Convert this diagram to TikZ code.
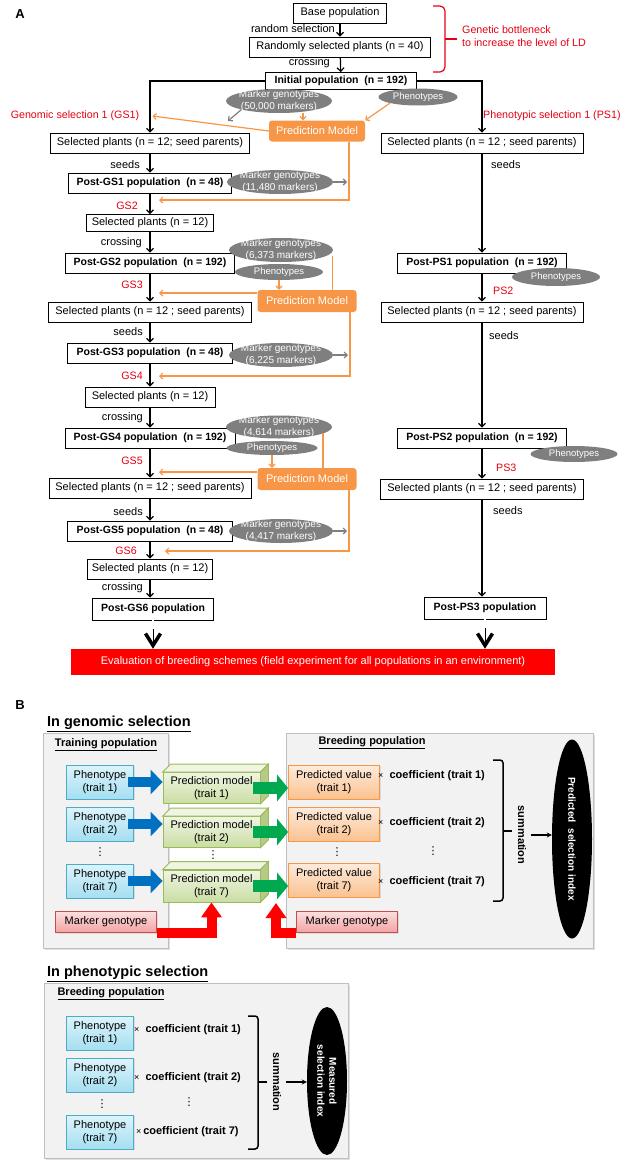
\documentclass[tikz,border=0pt]{standalone}
\usepackage{fontspec}
\setmainfont{Liberation Sans}
\newfontfamily\dotsfont{DejaVu Sans}
\usepackage{tikz}
\usetikzlibrary{arrows.meta}
\usetikzlibrary{positioning,decorations.pathreplacing}
\usetikzlibrary{calc,shapes.geometric,shadows}
\definecolor{selred}{HTML}{E60012}
\definecolor{evalred}{HTML}{FF0000}
\definecolor{pmorange}{HTML}{F79646}
\definecolor{genogray}{HTML}{7F7F7F}
\definecolor{panelfill}{HTML}{F2F2F2}
\definecolor{panelline}{HTML}{BFBFBF}
\definecolor{phtop}{HTML}{DDF4FB}
\definecolor{phbot}{HTML}{A5DEF1}
\definecolor{phline}{HTML}{4BACC6}
\definecolor{pmtop}{HTML}{EFF5E2}
\definecolor{pmbot}{HTML}{CADDA3}
\definecolor{pmline}{HTML}{9BBB59}
\definecolor{pmside}{HTML}{B4CA86}
\definecolor{pvtop}{HTML}{FDEBDC}
\definecolor{pvbot}{HTML}{FAC290}
\definecolor{mgtop}{HTML}{FCDEDE}
\definecolor{mgbot}{HTML}{F3A3A3}
\definecolor{mgline}{HTML}{C0504D}
\definecolor{bluearr}{HTML}{0070C0}
\definecolor{greenarr}{HTML}{00A850}
\tikzset{
    every node/.style={font=\fontsize{11}{12.5}\selectfont},
    box/.style={draw, fill=white, line width=0.8pt, inner sep=1pt},
    popbox/.style={box, font=\fontsize{10.5}{12.5}\selectfont\bfseries},
    lbl/.style={inner sep=0pt},
    redlbl/.style={text=selred, inner sep=0pt, font=\fontsize{10.7}{13}\selectfont},
    geno/.style={ellipse, fill=genogray, inner sep=0pt},
    genotxt/.style={text=white, align=center, inner sep=0pt, font=\fontsize{10}{11.5}\selectfont},
    phenoell/.style={ellipse, fill=genogray, text=white, inner sep=0pt, font=\fontsize{9.5}{11}\selectfont},
    pmodel/.style={fill=pmorange, rounded corners=3pt, text=white, inner sep=1pt},
    flow/.style={line width=1.2pt, -{Straight Barb[length=3.5pt, width=7pt]}},
    oline/.style={pmorange, line width=1.2pt},
    oarrow/.style={oline, -{Straight Barb[length=3pt, width=6pt]}},
    garrow/.style={genogray, line width=1.2pt, -{Straight Barb[length=3pt, width=6pt]}, shorten >=2pt},
    dbl/.style={double, double distance=1.2pt, line width=0.5pt},
    chev/.style={line width=1pt, -{Straight Barb[length=12pt, width=15pt, line width=3.5pt]}},
    bracket/.style={selred, line width=1.2pt, rounded corners=5pt},
    panel/.style={draw=panelline, fill=panelfill, line width=0.8pt,
        drop shadow={opacity=0.25, shadow xshift=1.5pt, shadow yshift=-1.5pt}},
    lightshadow/.style={drop shadow={opacity=0.2, shadow xshift=1pt, shadow yshift=-1pt}},
    phbox/.style={draw=phline, top color=phtop, bottom color=phbot, line width=0.8pt, lightshadow,
        align=center, minimum width=67pt, minimum height=34pt, inner sep=1pt},
    pmface/.style={draw=pmline, top color=pmtop, bottom color=pmbot, line width=0.8pt,
        align=center, minimum width=97pt, minimum height=31pt, inner sep=1pt},
    pvbox/.style={draw=pmorange, top color=pvtop, bottom color=pvbot, line width=0.8pt, lightshadow,
        align=center, minimum width=91pt, minimum height=34pt, inner sep=1pt},
    mgbox/.style={draw=mgline, top color=mgtop, bottom color=mgbot, line width=0.8pt, lightshadow,
        minimum width=101pt, minimum height=21pt, inner sep=1pt},
    bluearrow/.style={bluearr, line width=10pt, -{Triangle[length=12pt, width=24pt]}, shorten <=-6pt},
    greenarrow/.style={greenarr, line width=12pt, -{Triangle[length=11pt, width=26pt]}, shorten <=-7pt},
    redarrow/.style={evalred, line width=10pt, line join=miter, -{Triangle[length=15pt, width=20pt]}},
    dots/.style={inner sep=0pt, font=\dotsfont\fontsize{11}{12}\selectfont},
    coef/.style={anchor=west, inner sep=0pt, font=\fontsize{11}{13}\selectfont\bfseries},
    title/.style={anchor=west, inner sep=0pt, font=\fontsize{14.5}{16}\selectfont\bfseries},
    subtitle/.style={inner sep=0pt, font=\fontsize{11}{13}\selectfont\bfseries},
    summ/.style={rotate=-90, inner sep=0pt, font=\fontsize{11}{13}\selectfont\bfseries},
    sumbrace/.style={line width=1.5pt, rounded corners=3pt},
    sumarrow/.style={line width=1.2pt, -{Stealth[length=5pt, width=5pt]}, shorten <=5pt},
    psiell/.style={ellipse, fill=black, text=white, rotate=-90, align=center, inner sep=0pt,
        font=\fontsize{10}{12}\selectfont\bfseries}
}

\begin{document}
\begin{tikzpicture}[x=1pt, y=-1pt]
    \useasboundingbox (0,0) rectangle (629,1170);

    % Part A: the two breeding schemes
    \node[font=\fontsize{13}{15}\selectfont\bfseries] (labA) at (20,14) {A};
    \node[box, minimum width=93pt, minimum height=20pt] (base) at (340,13) {Base population};
    \node[box, minimum width=181pt, minimum height=20pt] (rand) at (340,47) {Randomly selected plants (n = 40)};
    \node[popbox, minimum width=151pt, minimum height=17pt] (init) at (341,81) {Initial population\ \ (n = 192)};
    \node[lbl, anchor=east] (randsel) at (335,29) {random selection};
    \node[lbl, anchor=east] (cross0) at (330,63) {crossing};
    \draw[flow] (base) -- (rand);
    \draw[flow] (rand) -- (init);
    \draw[bracket] (433,6) -| (445,39) |- (433,72);
    \draw[bracket] (445,39) -- (457,39);
    \node[redlbl, anchor=west, align=left] (bottle) at (462,36) {Genetic bottleneck\\to increase the level of LD};

    % Genomic selection column
    \node[redlbl] (gs1) at (75,116) {Genomic selection 1 (GS1)};
    \node[box, minimum width=199pt, minimum height=20pt] (sel1) at (150,143) {Selected plants (n = 12; seed parents)};
    \node[popbox, minimum width=163pt, minimum height=20pt] (post1) at (150,183) {Post-GS1 population\ \ (n = 48)};
    \node[box, minimum width=127pt, minimum height=17pt] (sel2) at (150,223) {Selected plants (n = 12)};
    \node[popbox, minimum width=169pt, minimum height=20pt] (post2) at (150,263) {Post-GS2 population\ \ (n = 192)};
    \node[box, minimum width=203pt, minimum height=20pt] (sel3) at (150,312) {Selected plants (n =\ 12 ; seed parents)};
    \node[popbox, minimum width=165pt, minimum height=20pt] (post3) at (150,353) {Post-GS3 population\ \ (n = 48)};
    \node[box, minimum width=130pt, minimum height=20pt] (sel4) at (150,397) {Selected plants (n =\ 12)};
    \node[popbox, minimum width=170pt, minimum height=20pt] (post4) at (150,438) {Post-GS4 population\ \ (n = 192)};
    \node[box, minimum width=202pt, minimum height=20pt] (sel5) at (150,488) {Selected plants (n = 12 ; seed parents)};
    \node[popbox, minimum width=165pt, minimum height=20pt] (post5) at (150,531) {Post-GS5 population\ \ (n = 48)};
    \node[box, minimum width=125pt, minimum height=20pt] (sel6) at (150,569) {Selected plants (n = 12)};
    \node[popbox, minimum width=121pt, minimum height=22pt] (post6) at (153,609) {Post-GS6 population};

    \node[lbl, anchor=east] (seeds1) at (140,165) {seeds};
    \node[redlbl, anchor=east] (gs2) at (138,206) {GS2};
    \node[lbl, anchor=east] (cross1) at (142,243) {crossing};
    \node[redlbl, anchor=east] (gs3) at (143,285) {GS3};
    \node[lbl, anchor=east] (seeds2) at (143,332) {seeds};
    \node[redlbl, anchor=east] (gs4) at (143,376) {GS4};
    \node[lbl, anchor=east] (cross2) at (143,418) {crossing};
    \node[redlbl, anchor=east] (gs5) at (143,461) {GS5};
    \node[lbl, anchor=east] (seeds3) at (143,512) {seeds};
    \node[redlbl, anchor=east] (gs6) at (137,551) {GS6};
    \node[lbl, anchor=east] (cross3) at (143,588) {crossing};

    \draw[flow] (init.west) -| (sel1.north);
    \draw[flow] (sel1) -- (post1);
    \draw[flow] (post1) -- (sel2);
    \draw[flow] (sel2) -- (post2);
    \draw[flow] (post2) -- (sel3);
    \draw[flow] (sel3) -- (post3);
    \draw[flow] (post3) -- (sel4);
    \draw[flow] (sel4) -- (post4);
    \draw[flow] (post4) -- (sel5);
    \draw[flow] (sel5) -- (post5);
    \draw[flow] (post5) -- (sel6);
    \draw[flow] (sel6.south) -- (sel6.south |- post6.north);

    % Marker genotypes, phenotypes and prediction models
    \node[geno, minimum width=106pt, minimum height=24pt, label={[genotxt]center:{Marker genotypes\\(50,000 markers)}}] (geno1) at (279,101) {};
    \node[phenoell, minimum width=79pt, minimum height=17pt] (pheno1) at (418,97) {Phenotypes};
    \node[pmodel, minimum width=96pt, minimum height=21pt] (pm1) at (317,131) {Prediction Model};
    \node[geno, minimum width=106pt, minimum height=24pt, label={[genotxt]center:{Marker genotypes\\(11,480 markers)}}] (geno2) at (280,182) {};
    \node[geno, minimum width=104pt, minimum height=24pt, label={[genotxt]center:{Marker genotypes\\(6,373 markers)}}] (geno3) at (281,250) {};
    \node[phenoell, minimum width=88pt, minimum height=16pt] (pheno2) at (279,272) {Phenotypes};
    \node[pmodel, minimum width=99pt, minimum height=22pt] (pm2) at (307,301) {Prediction Model};
    \node[geno, minimum width=104pt, minimum height=24pt, label={[genotxt]center:{Marker genotypes\\(6,225 markers)}}] (geno4) at (281,355) {};
    \node[geno, minimum width=106pt, minimum height=23pt, label={[genotxt]center:{Marker genotypes\\(4,614 markers)}}] (geno5) at (279,427) {};
    \node[phenoell, minimum width=91pt, minimum height=14pt] (pheno3) at (272,448) {Phenotypes};
    \node[pmodel, minimum width=99pt, minimum height=22pt] (pm3) at (307,479) {Prediction Model};
    \node[geno, minimum width=104pt, minimum height=24pt, label={[genotxt]center:{Marker genotypes\\(4,417 markers)}}] (geno6) at (281,531) {};

    \coordinate (g1end) at (228,121);
    \coordinate (c1) at (349,200);
    \coordinate (gs2in) at (159,200);
    \coordinate (gs3in) at (159,293);
    \coordinate (c2) at (350,376);
    \coordinate (gs4in) at (159,376);
    \coordinate (gs5in) at (159,472);
    \coordinate (c3) at (349,551);
    \coordinate (gs6in) at (165,551);

    \draw[garrow, shorten >=0pt] (geno1.south west) -- (g1end);
    \draw[oarrow] ([xshift=24pt]geno1.south) -- ([xshift=24pt]geno1.south |- pm1.north);
    \draw[oarrow] (pheno1.south west) -- (pm1.north east);
    \draw[oarrow] (pm1.west) -- ([xshift=13pt]gs1.east);
    \draw[oarrow] (pm1.south -| c1) -- (c1) -- (gs2in);
    \draw[garrow] (geno2.east) -- (geno2.east -| c1);

    \draw[oarrow] ([shift={(-1pt,-6pt)}]geno3.east) -- ([shift={(-1pt,-6pt)}]geno3.east |- pm2.north);
    \draw[oarrow] (pheno2.south) -- (pheno2.south |- pm2.north);
    \draw[oarrow] (pm2.west |- gs3in) -- (gs3in);
    \draw[oarrow] (pm2.south -| c2) -- (c2) -- (gs4in);
    \draw[garrow] (geno4.east) -- (geno4.east -| c2);

    \draw[oarrow] ([shift={(44pt,-6pt)}]geno5.center) -- ([shift={(44pt,-6pt)}]geno5.center |- pm3.north);
    \draw[oarrow] (pheno3.south) -- (pheno3.south |- pm3.north);
    \draw[oarrow] (pm3.west |- gs5in) -- (gs5in);
    \draw[oarrow] (pm3.south -| c3) -- (c3) -- (gs6in);
    \draw[garrow] (geno6.east) -- (geno6.east -| c3);

    % Phenotypic selection column
    \node[redlbl, anchor=west] (ps1) at (483,116) {Phenotypic selection 1 (PS1)};
    \node[box, minimum width=202pt, minimum height=20pt] (psel1) at (482,143) {Selected plants (n =\ 12 ; seed parents)};
    \node[popbox, minimum width=169pt, minimum height=20pt] (ppost1) at (482,263) {Post-PS1 population\ \ (n = 192)};
    \node[box, minimum width=202pt, minimum height=20pt] (psel2) at (482,312) {Selected plants (n =\ 12 ; seed parents)};
    \node[popbox, minimum width=169pt, minimum height=20pt] (ppost2) at (482,438) {Post-PS2 population\ \ (n = 192)};
    \node[box, minimum width=203pt, minimum height=20pt] (psel3) at (482,489) {Selected plants (n =\ 12 ; seed parents)};
    \node[popbox, minimum width=122pt, minimum height=22pt] (ppost3) at (485,608) {Post-PS3 population};
    \node[phenoell, minimum width=88pt, minimum height=18pt] (ppheno1) at (556,277) {Phenotypes};
    \node[phenoell, minimum width=87pt, minimum height=16pt] (ppheno2) at (574,454) {Phenotypes};

    \node[lbl, anchor=west] (pseeds1) at (491,165) {seeds};
    \node[redlbl, anchor=west] (ps2) at (493,291) {PS2};
    \node[lbl, anchor=west] (pseeds2) at (489,336) {seeds};
    \node[redlbl, anchor=west] (ps3) at (496,468) {PS3};
    \node[lbl, anchor=west] (pseeds3) at (493,511) {seeds};

    \draw[flow] (init.east) -| (psel1.north);
    \draw[flow] (psel1) -- (ppost1);
    \draw[flow] (ppost1) -- (psel2);
    \draw[flow] (psel2) -- (ppost2);
    \draw[flow] (ppost2) -- (psel3);
    \draw[flow] (psel3.south) -- (psel3.south |- ppost3.north);

    % Evaluation
    \node[fill=evalred, text=white, minimum width=484pt, minimum height=26pt, inner sep=0pt,
        font=\fontsize{11}{13}\selectfont] (eval) at (313,662)
        {Evaluation of breeding schemes (field experiment for all populations in an environment)};
    \coordinate (e1) at ([yshift=-9pt]post6.south);
    \coordinate (e2) at ([yshift=-9pt]ppost3.south);
    \draw[dbl] (post6.south) -- (e1);
    \draw[chev] (e1) -- (e1 |- eval.north);
    \draw[dbl] (ppost3.south) -- (e2);
    \draw[chev] (e2) -- (e2 |- eval.north);

    % Part B: selection indices
    \node[font=\fontsize{13}{15}\selectfont\bfseries] (labB) at (20,705) {B};
    \node[title] (gstitle) at (47,724) {\underline{In genomic selection}};
    \node[panel, minimum width=125pt, minimum height=215pt] (train) at (105.5,840.5) {};
    \node[panel, minimum width=307pt, minimum height=215pt] (breed) at (439.5,840.5) {};
    \node[subtitle] (trainlbl) at (106,745) {\underline{Training population}};
    \node[subtitle] (breedlbl) at (372,743) {\underline{Breeding population}};

    \node[phbox] (ph1) at (100,782) {Phenotype\\(trait 1)};
    \node[phbox] (ph2) at (100,824) {Phenotype\\(trait 2)};
    \node[phbox] (ph7) at (100,881) {Phenotype\\(trait 7)};
    \node[dots] (phdots) at (100,852) {⋮};

    \node[pmface] (m1) at (211.5,788) {Prediction model\\(trait 1)};
    \node[pmface] (m2) at (211.5,832) {Prediction model\\(trait 2)};
    \node[pmface, minimum height=32pt] (m7) at (211.5,886) {Prediction model\\(trait 7)};
    \node[dots] (mdots) at (213,855) {⋮};
    \filldraw[pmline, fill=pmtop, line width=0.8pt] (m1.north west) -- ++(8,-8) -- ([shift={(8pt,8pt)}]m1.north east) -- (m1.north east) -- cycle;
    \filldraw[pmline, fill=pmside, line width=0.8pt] (m1.north east) -- ++(8,-8) -- ([shift={(8pt,8pt)}]m1.south east) -- (m1.south east) -- cycle;
    \filldraw[pmline, fill=pmtop, line width=0.8pt] (m2.north west) -- ++(8,-8) -- ([shift={(8pt,8pt)}]m2.north east) -- (m2.north east) -- cycle;
    \filldraw[pmline, fill=pmside, line width=0.8pt] (m2.north east) -- ++(8,-8) -- ([shift={(8pt,8pt)}]m2.south east) -- (m2.south east) -- cycle;
    \filldraw[pmline, fill=pmtop, line width=0.8pt] (m7.north west) -- ++(8,-8) -- ([shift={(8pt,8pt)}]m7.north east) -- (m7.north east) -- cycle;
    \filldraw[pmline, fill=pmside, line width=0.8pt] (m7.north east) -- ++(8,-8) -- ([shift={(8pt,8pt)}]m7.south east) -- (m7.south east) -- cycle;

    \node[pvbox] (pv1) at (334,782) {Predicted value\\(trait 1)};
    \node[pvbox] (pv2) at (334,824) {Predicted value\\(trait 2)};
    \node[pvbox] (pv7) at (334,880) {Predicted value\\(trait 7)};
    \node[dots] (pvdots) at (337,852) {⋮};

    \node[coef] (cf1) at (378,776) {{\mdseries\small ×}\ \ coefficient (trait 1)};
    \node[coef] (cf2) at (378,823) {{\mdseries\small ×}\ \ coefficient (trait 2)};
    \node[coef] (cf7) at (378,882) {{\mdseries\small ×}\ \ coefficient (trait 7)};
    \node[dots] (cfdots) at (433,851) {⋮};

    \node[mgbox] (mg1) at (106,922) {Marker genotype};
    \node[mgbox] (mg2) at (347,922) {Marker genotype};

    \draw[bluearrow] (ph1.east) -- (ph1.east -| m1.west);
    \draw[bluearrow] (ph2.east) -- (ph2.east -| m2.west);
    \draw[bluearrow] (ph7.east) -- (ph7.east -| m7.west);
    \draw[greenarrow] (m1.east) -- (m1.east -| pv1.west);
    \draw[greenarrow] (m2.east) -- (m2.east -| pv2.west);
    \draw[greenarrow] (m7.east) -- (m7.east -| pv7.west);
    \coordinate (apply) at (276,903);
    \draw[redarrow] (mg1.south east) -| (m7.south);
    \draw[redarrow] (mg2.south west) -| (apply);

    \draw[sumbrace] (493,760) -| (503,831) |- (493,901);
    \draw[sumbrace] (503,831) -- (512,831);
    \node[summ] (sum1) at (522,835) {summation};
    \node[psiell, minimum width=199pt, minimum height=40pt] (psi) at (572,839) {Predicted\ \ selection index};
    \draw[sumarrow] (sum1.north) -- (sum1.north -| psi.south);

    % Phenotypic selection index
    \node[title] (pstitle) at (47,974) {\underline{In phenotypic selection}};
    \node[panel, minimum width=304pt, minimum height=175pt] (ppanel) at (196,1070.5) {};
    \node[subtitle] (pbreedlbl) at (111,994) {\underline{Breeding population}};
    \node[phbox] (qh1) at (100,1033) {Phenotype\\(trait 1)};
    \node[phbox] (qh2) at (100,1075) {Phenotype\\(trait 2)};
    \node[phbox] (qh7) at (100,1132) {Phenotype\\(trait 7)};
    \node[dots] (qhdots) at (102,1104) {⋮};
    \node[coef] (qc1) at (134,1030) {{\mdseries\small ×}\ \ coefficient (trait 1)};
    \node[coef] (qc2) at (134,1078) {{\mdseries\small ×}\ \ coefficient (trait 2)};
    \node[coef] (qc7) at (136,1132) {{\mdseries\small ×}\,coefficient (trait 7)};
    \node[dots] (qcdots) at (189,1102) {⋮};
    \draw[sumbrace] (248,1016) -| (258,1082) |- (248,1149);
    \draw[sumbrace] (258,1082) -- (267,1082);
    \node[summ] (sum2) at (277,1082) {summation};
    \node[psiell, minimum width=148pt, minimum height=40pt] (msi) at (327,1081) {Measured\\selection index};
    \draw[sumarrow] (sum2.north) -- (sum2.north -| msi.south);
\end{tikzpicture}
\end{document}
